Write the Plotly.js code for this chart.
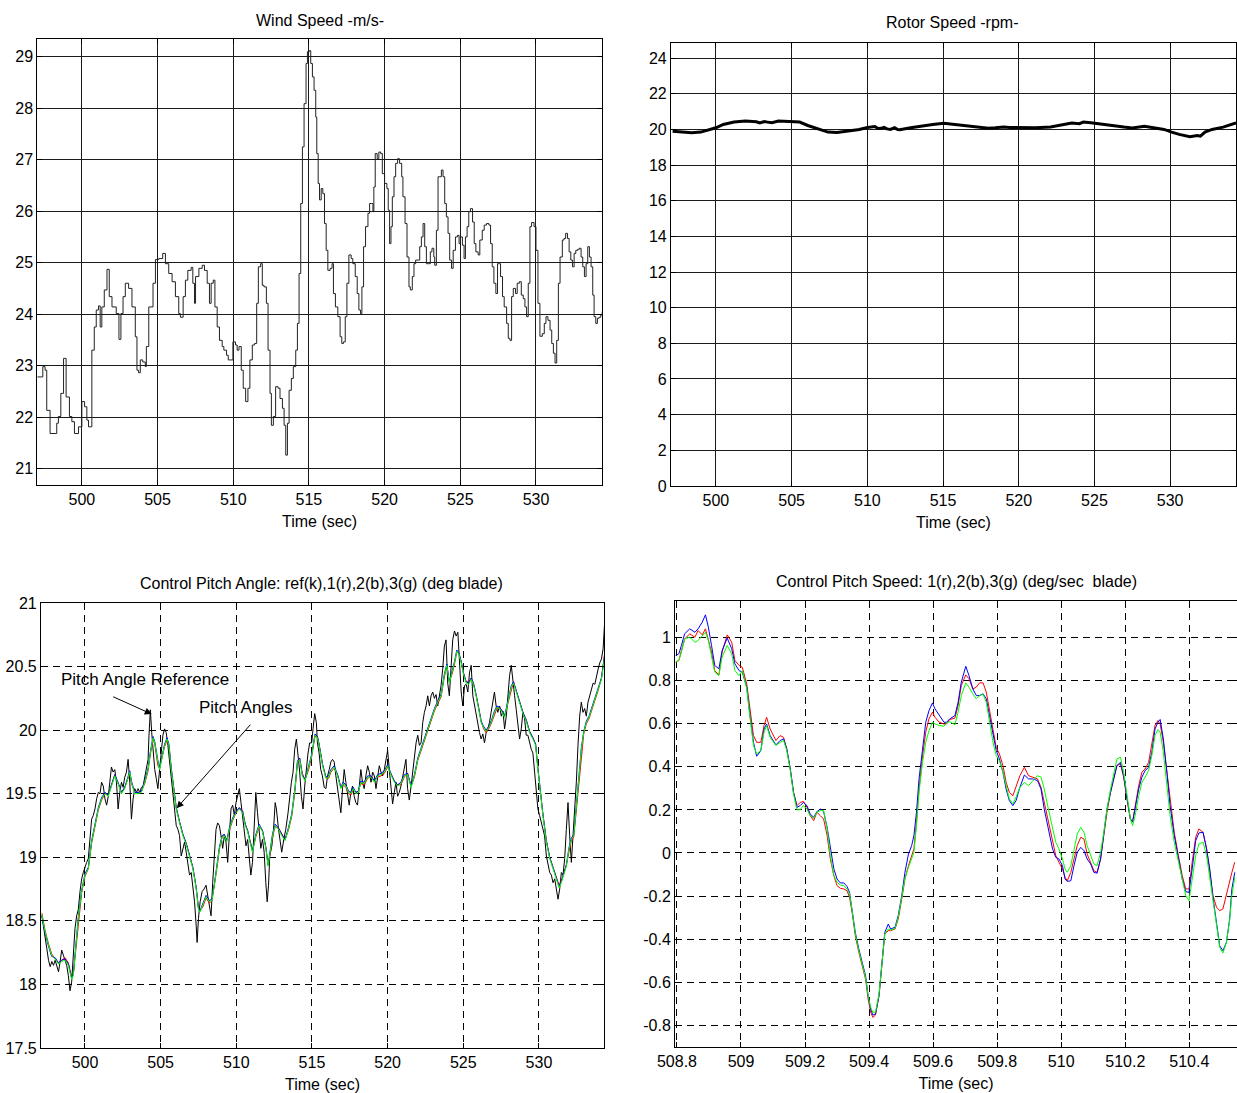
<!DOCTYPE html>
<html>
<head>
<meta charset="utf-8">
<script src="https://cdn.plot.ly/plotly-3.0.1.min.js"></script>
<style>html,body{margin:0;padding:0;background:#fff;}#chart{width:1237px;height:1093px;}</style>
</head>
<body>
<div id="chart"></div>
<script>
// ---------- Wind speed (m/s) ----------
const windT = [497.06,497.42,497.57,497.68,497.90,498.23,498.34,498.45,498.61,498.79,498.96,499.18,499.34,499.51,499.78,500.00,500.18,500.33,500.44,500.60,500.66,500.82,500.95,501.10,501.21,501.32,501.48,501.66,501.81,501.99,502.27,502.45,502.58,502.72,502.87,503.09,503.31,503.53,503.64,503.75,503.86,504.02,504.19,504.26,504.42,504.57,504.70,504.86,505.08,505.34,505.52,505.74,505.96,506.18,506.40,506.51,506.69,506.84,507.00,507.22,507.33,507.44,507.51,507.73,507.95,508.10,508.28,508.43,508.54,508.68,508.79,508.94,509.09,509.27,509.38,509.56,509.67,509.82,509.98,510.15,510.26,510.38,510.53,510.66,510.82,510.97,511.10,511.26,511.41,511.55,511.66,511.81,511.92,512.03,512.19,512.30,512.43,512.52,512.65,512.80,512.96,513.09,513.25,513.36,513.47,513.58,513.69,513.84,513.97,514.13,514.24,514.35,514.46,514.57,514.68,514.81,514.90,515.03,515.12,515.23,515.34,515.45,515.52,515.61,515.70,515.81,515.92,516.03,516.14,516.25,516.40,516.53,516.62,516.75,516.91,517.06,517.17,517.28,517.40,517.51,517.64,517.79,517.90,518.06,518.19,518.30,518.41,518.50,518.61,518.74,518.90,519.01,519.12,519.23,519.29,519.38,519.51,519.62,519.74,519.85,520.00,520.15,520.24,520.33,520.42,520.51,520.62,520.73,520.86,520.99,521.13,521.21,521.35,521.48,521.61,521.70,521.83,521.94,522.05,522.21,522.32,522.43,522.54,522.65,522.76,522.89,523.02,523.13,523.25,523.31,523.42,523.53,523.64,523.75,523.86,523.97,524.08,524.19,524.30,524.42,524.53,524.68,524.81,524.92,525.01,525.14,525.25,525.34,525.45,525.56,525.67,525.81,525.92,526.03,526.18,526.29,526.45,526.58,526.73,526.89,527.00,527.11,527.22,527.35,527.46,527.57,527.66,527.79,527.90,528.06,528.17,528.28,528.39,528.50,528.65,528.76,528.90,529.03,529.16,529.27,529.38,529.49,529.60,529.71,529.87,530.00,530.13,530.26,530.42,530.55,530.66,530.79,530.93,531.04,531.15,531.26,531.37,531.48,531.59,531.74,531.85,531.96,532.08,532.19,532.30,532.41,532.52,532.63,532.76,532.87,532.98,533.09,533.20,533.31,533.42,533.53,533.64,533.75,533.84,533.95,534.06,534.17,534.28,534.37];
const windV = [22.78,22.98,22.91,22.13,21.68,21.68,21.88,22.01,22.46,23.14,22.39,22.01,21.91,21.68,21.81,22.30,22.20,21.94,21.81,21.81,23.30,23.75,24.08,24.16,23.75,24.14,24.47,24.87,24.34,24.14,24.01,23.51,24.01,24.34,24.60,24.50,24.14,23.56,22.91,22.86,23.11,23.07,22.98,23.37,24.14,24.14,24.60,25.06,25.08,25.18,24.98,24.79,24.63,24.34,24.01,23.94,24.34,24.66,24.85,24.91,24.60,24.21,24.73,24.89,24.95,24.85,24.60,24.21,24.60,24.66,24.14,23.75,23.49,23.37,23.30,23.20,23.11,23.11,23.46,23.40,23.30,23.37,22.91,22.56,22.30,22.56,23.11,23.40,23.43,24.21,24.92,24.98,24.56,24.53,24.21,23.30,22.46,21.84,22.01,22.59,22.56,22.36,22.17,21.84,21.26,21.88,22.52,22.75,22.98,23.30,23.82,24.79,26.15,27.25,28.09,28.87,29.10,29.12,28.87,28.61,28.35,27.83,27.12,26.54,26.22,26.44,26.34,25.76,25.24,24.85,24.89,24.98,24.40,24.14,23.95,23.56,23.43,23.46,23.95,24.60,25.15,25.08,24.98,24.73,24.40,24.08,24.01,24.53,25.31,25.70,25.96,26.15,26.15,25.99,26.47,27.12,27.02,27.15,27.12,26.73,26.54,26.44,26.02,25.37,25.70,26.28,26.67,26.93,27.02,26.93,26.67,26.28,25.76,25.11,24.53,24.47,24.73,24.98,25.05,25.05,25.31,25.50,25.76,25.31,24.98,24.98,25.21,25.28,25.11,24.95,25.63,26.67,26.67,26.80,26.67,26.15,25.89,25.57,25.05,24.89,25.24,25.50,25.53,25.37,25.50,25.34,25.08,25.50,25.70,25.99,26.05,25.79,25.37,25.21,25.15,25.44,25.63,25.73,25.76,25.73,25.37,24.92,24.60,24.40,24.98,24.98,24.73,24.34,24.14,23.82,23.53,23.49,24.34,24.50,24.40,24.60,24.63,24.37,24.30,24.14,23.95,24.60,25.70,25.78,25.70,25.24,24.21,23.57,23.62,23.82,23.95,23.88,23.69,23.43,23.24,23.05,23.49,24.60,25.11,25.44,25.47,25.57,25.47,25.21,25.05,24.92,25.18,25.24,25.26,25.28,25.11,24.92,24.73,24.98,25.31,25.11,24.92,24.37,23.95,23.82,23.92,23.94,23.98,24.05];

// ---------- Rotor speed (rpm) ----------
const rotorT = [497.14,497.8,498.4,499.0,499.5,500.0,500.49,501.2,501.94,502.2,502.67,502.9,503.2,503.4,503.7,504.13,504.4,504.85,505.53,506.07,506.8,507.4,508.0,508.74,509.47,510.0,510.2,510.5,510.7,510.92,511.1,511.3,511.53,511.8,512.0,512.14,512.86,513.6,514.32,515.05,515.78,516.5,517.48,518.0,518.45,519.0,519.4,520.15,521.1,522.1,522.8,523.5,524.0,524.27,524.76,525.5,526.2,526.94,527.5,527.9,528.3,528.9,529.6,530.1,530.6,531.3,531.8,532.0,532.3,532.77,533.5,534.35];
const rotorV = [19.9,19.87,19.81,19.85,19.96,20.09,20.28,20.41,20.47,20.45,20.43,20.36,20.44,20.41,20.37,20.47,20.46,20.43,20.41,20.22,20.04,19.85,19.83,19.9,20.0,20.11,20.13,20.16,20.05,20.06,20.12,20.03,20.0,20.10,19.99,19.98,20.09,20.19,20.28,20.34,20.28,20.19,20.13,20.07,20.09,20.14,20.11,20.09,20.09,20.13,20.24,20.36,20.32,20.41,20.37,20.28,20.19,20.13,20.08,20.13,20.17,20.09,20.0,19.85,19.72,19.59,19.66,19.62,19.85,20.0,20.13,20.37];

// ---------- Pitch angle reference (black) ----------
const refT = [497.15,497.26,497.37,497.48,497.59,497.70,497.81,497.92,498.03,498.14,498.25,498.36,498.46,498.57,498.68,498.79,498.90,499.01,499.12,499.23,499.34,499.45,499.56,499.67,499.78,499.89,500.00,500.11,500.22,500.33,500.44,500.55,500.66,500.77,500.88,500.99,501.10,501.21,501.32,501.43,501.54,501.64,501.75,501.86,501.97,502.08,502.19,502.30,502.41,502.52,502.63,502.74,502.85,502.96,503.07,503.18,503.29,503.40,503.51,503.62,503.73,503.84,503.95,504.06,504.17,504.23,504.32,504.41,504.50,504.61,504.71,504.82,504.93,505.04,505.15,505.26,505.37,505.48,505.59,505.70,505.81,505.92,506.03,506.14,506.25,506.36,506.47,506.58,506.69,506.80,506.91,507.02,507.13,507.24,507.35,507.41,507.50,507.61,507.74,507.87,508.00,508.11,508.22,508.33,508.44,508.55,508.66,508.77,508.88,508.99,509.10,509.21,509.32,509.43,509.54,509.65,509.76,509.87,509.98,510.09,510.20,510.31,510.42,510.53,510.64,510.75,510.86,510.96,511.07,511.18,511.29,511.40,511.51,511.62,511.73,511.84,511.95,512.04,512.13,512.21,512.35,512.46,512.57,512.65,512.79,512.89,513.00,513.11,513.27,513.42,513.53,513.64,513.75,513.86,513.97,514.08,514.19,514.30,514.41,514.52,514.63,514.74,514.85,514.98,515.07,515.18,515.29,515.36,515.47,515.58,515.69,515.81,515.92,516.03,516.14,516.25,516.36,516.47,516.58,516.69,516.80,516.91,517.02,517.13,517.24,517.35,517.46,517.57,517.68,517.79,517.90,518.01,518.12,518.23,518.34,518.45,518.56,518.68,518.79,518.90,519.01,519.12,519.23,519.34,519.45,519.56,519.67,519.78,519.89,520.00,520.11,520.22,520.33,520.44,520.55,520.66,520.77,520.88,520.99,521.10,521.21,521.32,521.43,521.55,521.66,521.77,521.88,521.99,522.10,522.21,522.32,522.43,522.54,522.65,522.76,522.87,522.98,523.09,523.20,523.31,523.42,523.53,523.64,523.75,523.86,523.97,524.08,524.19,524.30,524.42,524.53,524.64,524.75,524.86,524.97,525.08,525.19,525.30,525.41,525.52,525.63,525.74,525.85,525.96,526.07,526.18,526.29,526.40,526.51,526.62,526.73,526.84,526.95,527.06,527.17,527.28,527.40,527.51,527.62,527.73,527.84,527.95,528.06,528.17,528.28,528.39,528.50,528.61,528.72,528.83,528.94,529.05,529.16,529.27,529.38,529.49,529.60,529.71,529.82,529.93,530.04,530.15,530.26,530.37,530.49,530.60,530.71,530.82,530.93,531.04,531.15,531.26,531.37,531.48,531.59,531.70,531.81,531.92,532.03,532.14,532.25,532.36,532.47,532.58,532.69,532.80,532.91,533.02,533.13,533.24,533.35,533.47,533.58,533.69,533.80,533.91,534.02,534.13,534.24,534.35];
const refV = [18.54,18.44,18.36,18.28,18.19,18.14,18.18,18.15,18.19,18.14,18.10,18.18,18.27,18.23,18.18,18.15,18.07,17.95,18.02,18.23,18.44,18.54,18.59,18.73,18.83,18.88,18.93,18.96,18.99,19.14,19.30,19.33,19.38,19.46,19.51,19.50,19.59,19.56,19.46,19.41,19.48,19.59,19.71,19.67,19.69,19.59,19.38,19.51,19.59,19.55,19.63,19.67,19.77,19.59,19.30,19.46,19.54,19.51,19.54,19.51,19.55,19.56,19.63,19.72,19.77,19.96,20.16,19.98,19.82,19.69,19.62,19.54,19.69,19.85,19.96,20.01,19.98,19.88,19.75,19.59,19.48,19.35,19.25,19.22,19.17,19.01,19.07,19.12,19.04,18.93,18.86,18.88,18.78,18.65,18.46,18.33,18.52,18.65,18.73,18.75,18.78,18.70,18.62,18.54,18.80,19.07,19.22,19.27,19.25,19.17,19.07,19.17,19.12,18.96,19.22,19.38,19.41,19.33,19.43,19.48,19.54,19.43,19.33,19.20,19.09,19.14,19.01,18.86,18.96,19.27,19.51,19.35,19.22,19.07,19.14,19.04,18.80,18.65,18.78,19.01,19.09,19.22,19.43,19.38,19.22,19.12,19.04,19.12,19.22,19.35,19.48,19.59,19.67,19.85,19.93,19.82,19.67,19.48,19.38,19.56,19.72,19.82,19.90,19.90,20.01,20.13,20.06,19.90,19.82,19.69,19.64,19.55,19.54,19.64,19.69,19.75,19.77,19.75,19.64,19.54,19.43,19.35,19.54,19.69,19.59,19.48,19.41,19.51,19.56,19.48,19.43,19.41,19.54,19.69,19.59,19.54,19.64,19.72,19.67,19.59,19.67,19.64,19.54,19.64,19.72,19.67,19.64,19.69,19.77,19.84,19.69,19.54,19.42,19.51,19.59,19.48,19.51,19.56,19.64,19.69,19.77,19.54,19.45,19.56,19.69,19.80,19.90,19.96,19.88,19.90,20.06,20.14,20.19,20.27,20.19,20.27,20.30,20.25,20.28,20.19,20.27,20.35,20.48,20.66,20.71,20.37,20.27,20.53,20.71,20.78,20.74,20.77,20.53,20.30,20.19,20.35,20.36,20.30,20.45,20.51,20.27,20.19,20.14,20.06,19.98,19.93,19.97,19.90,19.98,20.01,20.06,20.14,20.22,20.30,20.19,20.14,20.19,20.11,20.15,20.01,20.11,20.27,20.43,20.51,20.37,20.27,20.16,20.06,19.93,20.01,20.14,20.09,19.96,19.96,19.90,19.85,19.82,19.69,19.54,19.38,19.33,19.27,19.22,19.17,19.01,18.93,18.88,18.86,18.80,18.83,18.75,18.67,18.75,18.88,18.86,18.99,19.22,19.43,19.17,18.96,19.17,19.35,19.59,19.88,20.11,20.22,20.14,20.17,20.11,20.22,20.27,20.32,20.37,20.36,20.43,20.48,20.53,20.56,20.64,20.87];

// ---------- Pitch angles of blades 1 (r), 2 (b), 3 (g) ----------
const pitchT = [497.15,497.37,497.59,497.80,498.03,498.25,498.46,498.68,498.90,499.12,499.23,499.34,499.56,499.78,500.00,500.22,500.44,500.66,500.88,501.10,501.32,501.54,501.75,501.97,502.19,502.41,502.63,502.85,502.96,503.07,503.29,503.51,503.73,503.95,504.17,504.32,504.50,504.61,504.71,504.82,504.93,505.04,505.26,505.42,505.55,505.70,505.86,506.03,506.25,506.47,506.69,506.90,507.13,507.35,507.50,507.61,507.79,508.00,508.22,508.39,508.55,508.73,508.88,509.06,509.21,509.36,509.54,509.76,509.98,510.20,510.42,510.59,510.75,510.90,511.07,511.29,511.51,511.73,511.95,512.10,512.21,512.39,512.57,512.79,513.00,513.22,513.44,513.66,513.88,514.04,514.19,514.36,514.54,514.76,514.98,515.20,515.36,515.47,515.70,515.92,516.10,516.25,516.47,516.69,516.91,517.06,517.24,517.42,517.57,517.73,517.90,518.06,518.23,518.45,518.68,518.90,519.12,519.34,519.56,519.78,520.00,520.22,520.44,520.66,520.88,521.10,521.32,521.55,521.77,521.99,522.21,522.43,522.65,522.87,523.09,523.31,523.53,523.75,523.91,524.08,524.26,524.42,524.57,524.70,524.86,525.01,525.19,525.36,525.52,525.67,525.85,526.03,526.18,526.34,526.51,526.68,526.84,527.06,527.22,527.40,527.57,527.73,527.95,528.17,528.32,528.50,528.72,528.94,529.16,529.38,529.60,529.78,529.93,530.09,530.26,530.49,530.71,530.93,531.15,531.33,531.48,531.64,531.81,531.99,532.14,532.30,532.47,532.65,532.80,532.96,533.13,533.31,533.47,533.69,533.91,534.13,534.35];
const pitchR = [18.56,18.42,18.32,18.24,18.20,18.17,18.19,18.21,18.17,18.06,18.08,18.22,18.50,18.72,18.85,18.91,19.11,19.25,19.37,19.45,19.50,19.49,19.57,19.65,19.58,19.51,19.55,19.63,19.66,19.58,19.51,19.51,19.52,19.58,19.68,19.81,19.93,19.89,19.80,19.72,19.70,19.76,19.87,19.92,19.87,19.70,19.55,19.39,19.28,19.18,19.11,19.02,18.92,18.76,18.60,18.58,18.61,18.68,18.64,18.66,18.77,18.92,19.06,19.16,19.18,19.13,19.21,19.29,19.35,19.39,19.36,19.26,19.21,19.13,19.05,19.16,19.24,19.21,19.08,18.94,19.00,19.16,19.24,19.23,19.18,19.14,19.21,19.32,19.52,19.74,19.78,19.66,19.61,19.68,19.79,19.95,19.95,19.89,19.73,19.63,19.62,19.67,19.70,19.65,19.55,19.57,19.55,19.50,19.49,19.53,19.51,19.52,19.58,19.57,19.62,19.64,19.60,19.63,19.64,19.66,19.71,19.66,19.60,19.57,19.57,19.63,19.66,19.56,19.63,19.76,19.84,19.92,20.00,20.08,20.15,20.21,20.26,20.42,20.50,20.38,20.44,20.52,20.61,20.61,20.54,20.45,20.38,20.38,20.41,20.37,20.28,20.17,20.07,20.01,19.98,20.01,20.05,20.13,20.17,20.18,20.15,20.11,20.21,20.33,20.38,20.31,20.23,20.14,20.08,19.99,19.94,19.89,19.70,19.52,19.34,19.13,19.00,18.92,18.84,18.78,18.82,18.87,18.94,19.06,19.13,19.16,19.37,19.62,19.83,19.97,20.05,20.09,20.15,20.23,20.31,20.41,20.61];
const pitchB = [18.54,18.40,18.30,18.22,18.21,18.17,18.19,18.20,18.16,18.05,18.08,18.24,18.53,18.74,18.87,18.92,19.13,19.26,19.39,19.47,19.51,19.49,19.57,19.65,19.59,19.51,19.55,19.63,19.68,19.60,19.51,19.51,19.52,19.60,19.70,19.83,19.95,19.91,19.83,19.76,19.70,19.76,19.89,19.94,19.89,19.70,19.55,19.39,19.28,19.18,19.11,19.02,18.92,18.76,18.60,18.58,18.63,18.70,18.66,18.67,18.79,18.94,19.08,19.17,19.18,19.13,19.23,19.31,19.36,19.39,19.36,19.26,19.21,19.13,19.05,19.18,19.26,19.21,19.08,18.94,19.02,19.18,19.26,19.23,19.18,19.14,19.23,19.34,19.55,19.76,19.78,19.65,19.61,19.70,19.81,19.97,19.95,19.89,19.73,19.63,19.64,19.69,19.72,19.65,19.55,19.59,19.57,19.52,19.51,19.55,19.51,19.52,19.60,19.59,19.64,19.64,19.60,19.65,19.66,19.68,19.73,19.66,19.60,19.57,19.59,19.65,19.66,19.56,19.65,19.78,19.86,19.94,20.02,20.10,20.17,20.23,20.28,20.44,20.52,20.38,20.46,20.54,20.63,20.61,20.54,20.45,20.38,20.37,20.41,20.37,20.28,20.17,20.07,20.03,20.00,20.03,20.07,20.15,20.19,20.18,20.15,20.11,20.23,20.35,20.38,20.31,20.23,20.14,20.08,19.99,19.94,19.89,19.70,19.52,19.34,19.13,19.00,18.92,18.84,18.77,18.81,18.87,18.94,19.08,19.15,19.18,19.39,19.65,19.86,19.99,20.07,20.11,20.17,20.25,20.33,20.41,20.60];
const pitchG = [18.55,18.41,18.31,18.23,18.20,18.16,18.18,18.19,18.15,18.04,18.07,18.23,18.52,18.73,18.86,18.91,19.12,19.25,19.38,19.46,19.50,19.48,19.56,19.64,19.58,19.50,19.54,19.62,19.67,19.59,19.50,19.50,19.51,19.59,19.69,19.82,19.94,19.90,19.82,19.75,19.69,19.75,19.88,19.93,19.88,19.69,19.54,19.38,19.27,19.17,19.10,19.01,18.91,18.75,18.59,18.57,18.62,18.69,18.65,18.66,18.78,18.93,19.07,19.16,19.17,19.12,19.22,19.30,19.35,19.38,19.35,19.25,19.20,19.12,19.04,19.17,19.25,19.20,19.07,18.93,19.01,19.17,19.25,19.22,19.17,19.13,19.22,19.33,19.54,19.75,19.77,19.64,19.60,19.69,19.80,19.96,19.94,19.88,19.72,19.62,19.63,19.68,19.71,19.64,19.54,19.58,19.56,19.51,19.50,19.54,19.50,19.51,19.59,19.58,19.63,19.63,19.59,19.64,19.65,19.67,19.72,19.65,19.59,19.56,19.58,19.64,19.65,19.55,19.64,19.77,19.85,19.93,20.01,20.09,20.16,20.22,20.27,20.43,20.51,20.37,20.45,20.53,20.62,20.60,20.53,20.44,20.37,20.36,20.40,20.36,20.27,20.16,20.06,20.02,19.99,20.02,20.06,20.14,20.18,20.17,20.14,20.10,20.22,20.34,20.37,20.30,20.22,20.13,20.07,19.98,19.93,19.88,19.69,19.51,19.33,19.12,18.99,18.91,18.83,18.76,18.80,18.86,18.93,19.07,19.14,19.17,19.38,19.64,19.85,19.98,20.06,20.10,20.16,20.24,20.32,20.40,20.58];

// ---------- Pitch speed (deg/s) for blades 1 (r), 2 (b), 3 (g) ----------
const speedT = [508.796,508.806,508.814,508.824,508.840,508.856,508.866,508.879,508.889,508.898,508.908,508.918,508.931,508.941,508.957,508.971,508.981,508.994,509.004,509.018,509.028,509.039,509.049,509.062,509.072,509.080,509.091,509.109,509.122,509.133,509.143,509.154,509.164,509.175,509.185,509.195,509.206,509.216,509.227,509.237,509.248,509.258,509.269,509.279,509.290,509.300,509.310,509.321,509.331,509.339,509.347,509.357,509.368,509.378,509.389,509.397,509.405,509.412,509.420,509.431,509.441,509.449,509.460,509.467,509.481,509.491,509.502,509.512,509.523,509.533,509.540,509.548,509.556,509.567,509.577,509.587,509.598,509.606,509.619,509.634,509.642,509.652,509.668,509.678,509.688,509.702,509.712,509.724,509.735,509.745,509.756,509.766,509.776,509.787,509.797,509.807,509.818,509.828,509.838,509.849,509.859,509.871,509.885,509.898,509.911,509.926,509.937,509.947,509.960,509.973,509.983,509.993,510.004,510.012,510.019,510.030,510.040,510.050,510.061,510.071,510.081,510.092,510.102,510.112,510.123,510.133,510.143,510.154,510.164,510.174,510.185,510.195,510.206,510.216,510.223,510.231,510.242,510.252,510.262,510.273,510.283,510.293,510.302,510.309,510.319,510.330,510.340,510.353,510.366,510.378,510.389,510.399,510.409,510.420,510.430,510.443,510.454,510.464,510.474,510.485,510.495,510.505,510.516,510.526,510.533,510.542];
const speedR = [0.886,0.894,0.940,0.994,1.018,1.002,1.033,1.013,1.041,0.994,0.933,0.847,0.827,0.933,1.013,0.979,0.894,0.871,0.863,0.785,0.669,0.545,0.514,0.514,0.592,0.630,0.576,0.522,0.545,0.537,0.483,0.390,0.282,0.220,0.235,0.239,0.212,0.173,0.150,0.189,0.173,0.158,0.081,-0.028,-0.105,-0.152,-0.164,-0.167,-0.175,-0.206,-0.276,-0.384,-0.462,-0.524,-0.586,-0.678,-0.740,-0.764,-0.753,-0.663,-0.508,-0.376,-0.361,-0.361,-0.353,-0.307,-0.214,-0.121,-0.059,-0.012,0.019,0.143,0.297,0.452,0.561,0.623,0.654,0.630,0.607,0.599,0.599,0.620,0.626,0.685,0.778,0.827,0.809,0.762,0.770,0.790,0.790,0.747,0.669,0.576,0.491,0.460,0.406,0.328,0.282,0.266,0.305,0.359,0.398,0.359,0.352,0.344,0.305,0.235,0.143,0.050,-0.012,-0.043,-0.074,-0.113,-0.129,-0.090,-0.028,0.034,0.073,0.065,-0.005,-0.043,-0.082,-0.090,-0.028,0.081,0.189,0.282,0.352,0.406,0.414,0.352,0.243,0.158,0.146,0.220,0.313,0.375,0.390,0.421,0.514,0.592,0.615,0.599,0.514,0.375,0.235,0.096,-0.012,-0.105,-0.167,-0.167,-0.043,0.073,0.112,0.096,0.019,-0.090,-0.198,-0.252,-0.268,-0.260,-0.191,-0.136,-0.090,-0.043];
const speedB = [0.917,0.925,0.964,1.018,1.041,1.025,1.041,1.072,1.106,1.049,0.964,0.871,0.855,0.940,0.998,0.948,0.878,0.847,0.840,0.770,0.638,0.514,0.449,0.476,0.576,0.599,0.545,0.502,0.522,0.530,0.483,0.390,0.282,0.212,0.220,0.235,0.220,0.181,0.166,0.192,0.204,0.192,0.119,0.019,-0.074,-0.121,-0.139,-0.139,-0.155,-0.183,-0.260,-0.369,-0.446,-0.508,-0.570,-0.663,-0.725,-0.753,-0.748,-0.663,-0.508,-0.369,-0.330,-0.353,-0.345,-0.291,-0.198,-0.090,-0.005,0.034,0.081,0.189,0.344,0.483,0.607,0.661,0.697,0.669,0.638,0.607,0.607,0.623,0.638,0.700,0.793,0.867,0.824,0.762,0.731,0.731,0.739,0.716,0.638,0.545,0.476,0.437,0.375,0.297,0.243,0.220,0.243,0.305,0.362,0.344,0.344,0.336,0.297,0.204,0.112,0.019,-0.020,-0.028,-0.059,-0.121,-0.132,-0.129,-0.059,0.003,0.026,0.011,-0.028,-0.051,-0.090,-0.094,-0.028,0.081,0.204,0.282,0.352,0.406,0.421,0.359,0.251,0.158,0.143,0.204,0.297,0.352,0.383,0.398,0.468,0.576,0.607,0.620,0.530,0.375,0.220,0.081,-0.028,-0.121,-0.180,-0.183,-0.074,0.057,0.093,0.096,0.019,-0.074,-0.206,-0.322,-0.431,-0.454,-0.415,-0.307,-0.167,-0.090];
const speedG = [0.886,0.894,0.933,0.994,1.002,0.979,0.987,1.010,1.025,0.987,0.917,0.840,0.824,0.909,0.964,0.925,0.847,0.824,0.847,0.762,0.630,0.499,0.460,0.476,0.561,0.592,0.537,0.499,0.514,0.522,0.476,0.383,0.274,0.200,0.201,0.220,0.204,0.173,0.161,0.189,0.197,0.197,0.112,-0.012,-0.105,-0.136,-0.149,-0.152,-0.167,-0.191,-0.268,-0.376,-0.454,-0.516,-0.578,-0.663,-0.717,-0.740,-0.740,-0.655,-0.508,-0.376,-0.353,-0.358,-0.350,-0.299,-0.206,-0.118,-0.067,-0.028,0.003,0.127,0.282,0.421,0.514,0.568,0.607,0.599,0.592,0.589,0.604,0.610,0.595,0.654,0.731,0.790,0.770,0.739,0.716,0.731,0.737,0.700,0.607,0.514,0.452,0.429,0.375,0.313,0.251,0.228,0.259,0.305,0.328,0.313,0.336,0.359,0.352,0.297,0.204,0.112,0.050,0.019,-0.028,-0.074,-0.090,-0.059,0.019,0.088,0.119,0.096,0.034,-0.012,-0.051,-0.059,0.003,0.096,0.204,0.297,0.375,0.437,0.445,0.375,0.266,0.158,0.127,0.173,0.266,0.328,0.352,0.383,0.452,0.545,0.573,0.561,0.468,0.328,0.173,0.050,-0.043,-0.136,-0.198,-0.222,-0.121,-0.012,0.042,0.050,-0.012,-0.121,-0.229,-0.338,-0.438,-0.465,-0.415,-0.314,-0.198,-0.113];

// ---------- Tick labels ----------
const timeTicks = [500,505,510,515,520,525,530];
const windTicks = [21,22,23,24,25,26,27,28,29];
const rotorTicks = [0,2,4,6,8,10,12,14,16,18,20,22,24];
const pitchTicks = [17.5,18,18.5,19,19.5,20,20.5,21];
const pitchTickText = ['17.5','18','18.5','19','19.5','20','20.5','21'];
const speedTimeTicks = [508.8,509,509.2,509.4,509.6,509.8,510,510.2,510.4];
const speedTimeText = ['508.8','509','509.2','509.4','509.6','509.8','510','510.2','510.4'];
const speedTicks = [-0.8,-0.6,-0.4,-0.2,0,0.2,0.4,0.6,0.8,1];
const speedTickText = ['-0.8','-0.6','-0.4','-0.2','0','0.2','0.4','0.6','0.8','1'];

const FONT = '"Liberation Sans", Arial, Helvetica, sans-serif';

function ax(extra, dashed) {
  return Object.assign({
    showline: true, linecolor: '#000', linewidth: 1, mirror: 'ticks',
    ticks: 'inside', ticklen: 5, tickwidth: 1, tickcolor: '#000',
    showgrid: true, gridcolor: dashed ? '#000' : '#1a1a1a', gridwidth: 1,
    griddash: dashed ? '7px,5px' : 'solid',
    zeroline: false, tickfont: {family: FONT, size: 16, color: '#000'},
    fixedrange: true
  }, extra);
}
function xTitle() {
  return {text: 'Time (sec)', font: {family: FONT, size: 16, color: '#000'}, standoff: 8};
}

const traces = [
  {x: windT, y: windV, xaxis: 'x', yaxis: 'y', mode: 'lines', line: {color: '#222', width: 1, shape: 'hv'}, name: 'Wind'},
  {x: rotorT, y: rotorV, xaxis: 'x2', yaxis: 'y2', mode: 'lines', line: {color: '#000', width: 3}, name: 'Rotor'},
  {x: refT, y: refV, xaxis: 'x3', yaxis: 'y3', mode: 'lines', line: {color: '#000', width: 1}, name: 'ref'},
  {x: pitchT, y: pitchR, xaxis: 'x3', yaxis: 'y3', mode: 'lines', line: {color: '#ff0000', width: 1}, name: '1'},
  {x: pitchT, y: pitchB, xaxis: 'x3', yaxis: 'y3', mode: 'lines', line: {color: '#0000ff', width: 1}, name: '2'},
  {x: pitchT, y: pitchG, xaxis: 'x3', yaxis: 'y3', mode: 'lines', line: {color: '#00ff00', width: 1}, name: '3'},
  {x: speedT, y: speedR, xaxis: 'x4', yaxis: 'y4', mode: 'lines', line: {color: '#ff0000', width: 1}, name: '1'},
  {x: speedT, y: speedB, xaxis: 'x4', yaxis: 'y4', mode: 'lines', line: {color: '#0000ff', width: 1}, name: '2'},
  {x: speedT, y: speedG, xaxis: 'x4', yaxis: 'y4', mode: 'lines', line: {color: '#00ff00', width: 1}, name: '3'}
];

const titleFont = {family: FONT, size: 16, color: '#000'};
const layout = {
  width: 1237, height: 1093,
  margin: {l: 0, r: 0, t: 0, b: 0},
  paper_bgcolor: '#fff', plot_bgcolor: '#fff',
  showlegend: false,
  font: {family: FONT, size: 16, color: '#000'},
  xaxis: ax({domain: [0.0302, 0.4864], range: [497.06, 534.34], tickvals: timeTicks, anchor: 'y', title: xTitle()}),
  yaxis: ax({domain: [0.5563, 0.964], range: [20.68, 29.34], tickvals: windTicks, anchor: 'x'}),
  xaxis2: ax({domain: [0.5424, 0.9992], range: [497.03, 534.35], tickvals: timeTicks, anchor: 'y2', title: xTitle()}),
  yaxis2: ax({domain: [0.5554, 0.9607], range: [0, 24.85], tickvals: rotorTicks, anchor: 'x2'}),
  xaxis3: ax({domain: [0.0331, 0.4883], range: [497.09, 534.3], tickvals: timeTicks, anchor: 'y3', title: xTitle()}, true),
  yaxis3: ax({domain: [0.0412, 0.4483], range: [17.5, 21], tickvals: pitchTicks, ticktext: pitchTickText, anchor: 'x3'}, true),
  xaxis4: ax({domain: [0.5457, 1.0], range: [508.794, 510.549], tickvals: speedTimeTicks, ticktext: speedTimeText, anchor: 'y4', title: xTitle()}, true),
  yaxis4: ax({domain: [0.0421, 0.4501], range: [-0.901, 1.17], tickvals: speedTicks, ticktext: speedTickText, anchor: 'x4'}, true),
  annotations: [
    {text: 'Wind Speed -m/s-', xref: 'paper', yref: 'paper', x: 0.2583, y: 0.9817, xanchor: 'center', yanchor: 'middle', showarrow: false, font: titleFont},
    {text: 'Rotor Speed -rpm-', xref: 'paper', yref: 'paper', x: 0.7704, y: 0.979, xanchor: 'center', yanchor: 'middle', showarrow: false, font: titleFont},
    {text: 'Control Pitch Angle: ref(k),1(r),2(b),3(g) (deg blade)', xref: 'paper', yref: 'paper', x: 0.2603, y: 0.4666, xanchor: 'center', yanchor: 'middle', showarrow: false, font: titleFont},
    {text: 'Control Pitch Speed: 1(r),2(b),3(g) (deg/sec\u00a0 blade)', xref: 'paper', yref: 'paper', x: 0.7729, y: 0.4684, xanchor: 'center', yanchor: 'middle', showarrow: false, font: titleFont},
    {text: 'Pitch Angle Reference', xref: 'x3', yref: 'y3', x: 503.96, y: 20.40, xanchor: 'center', yanchor: 'middle', showarrow: false, font: {family: FONT, size: 17, color: '#000'}},
    {text: '', xref: 'x3', yref: 'y3', x: 504.41, y: 20.126, ax: -40, ay: -18, showarrow: true, arrowhead: 2, arrowsize: 1.4, arrowwidth: 1, arrowcolor: '#000'},
    {text: 'Pitch Angles', xref: 'x3', yref: 'y3', x: 510.64, y: 20.18, xanchor: 'center', yanchor: 'middle', showarrow: false, font: {family: FONT, size: 17, color: '#000'}},
    {text: '', xref: 'x3', yref: 'y3', x: 506.06, y: 19.386, ax: 75, ay: -85, showarrow: true, arrowhead: 2, arrowsize: 1.4, arrowwidth: 1, arrowcolor: '#000'}
  ]
};

Plotly.newPlot('chart', traces, layout, {staticPlot: true, displayModeBar: false});
</script>
</body>
</html>
